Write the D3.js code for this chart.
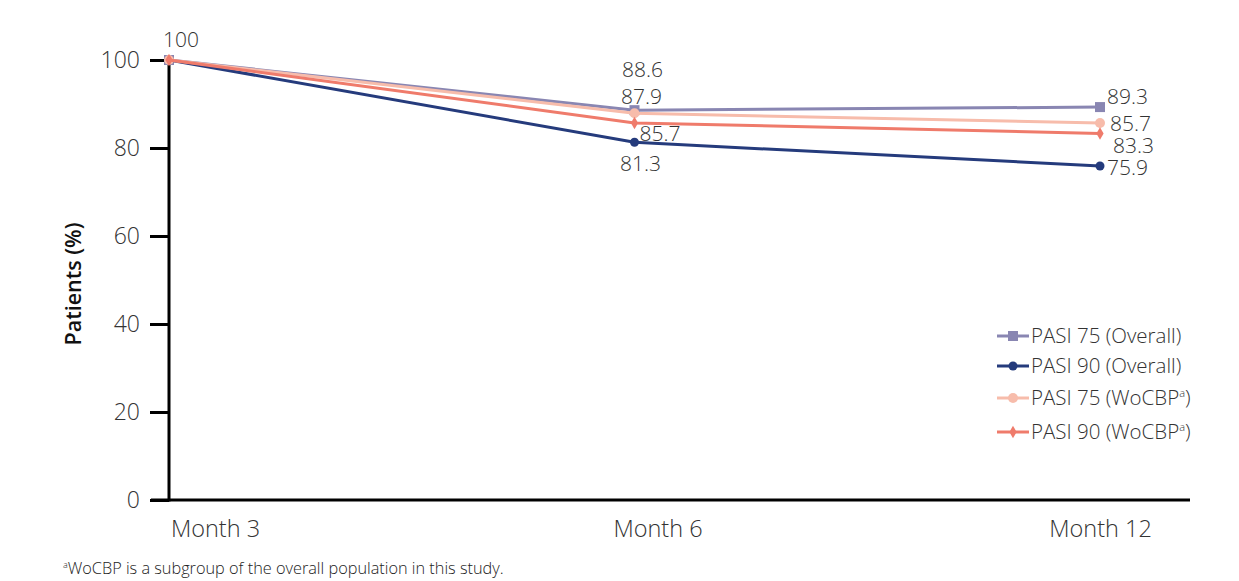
<!DOCTYPE html>
<html>
<head>
<meta charset="utf-8">
<script src="https://cdn.jsdelivr.net/npm/d3@7"></script>
<style>
  html, body { margin: 0; padding: 0; background: #fff; }
  svg { display: block; font-family: "Open Sans", "Noto Sans", sans-serif; }
</style>
</head>
<body>
<svg id="chart" width="1239" height="581"></svg>
<script>
// Time points and y-axis ticks
const months = ["Month 3", "Month 6", "Month 12"];
const yTicks = [0, 20, 40, 60, 80, 100];

// Response rates (%) per series
const pasi75Overall = [100, 88.6, 89.3];
const pasi90Overall = [100, 81.3, 75.9];
const pasi75Wocbp   = [100, 87.9, 85.7];
const pasi90Wocbp   = [100, 85.7, 83.3];

const seriesNames = ["PASI 75 (Overall)", "PASI 90 (Overall)", "PASI 75 (WoCBP", "PASI 90 (WoCBP"];

const series = [
  { name: seriesNames[0], sup: false, values: pasi75Overall, color: "#8986b2", marker: "square" },
  { name: seriesNames[1], sup: false, values: pasi90Overall, color: "#253b7c", marker: "circle" },
  { name: seriesNames[2], sup: true,  values: pasi75Wocbp,   color: "#f7bcab", marker: "bigcircle" },
  { name: seriesNames[3], sup: true,  values: pasi90Wocbp,   color: "#ef7b6b", marker: "diamond" }
];

// Value label offsets (dx from point, dy baseline from point) per series per month
const labelPlacement = [
  [null, { dx: 8, dy: -33, anchor: "middle" }, { dx: 7, dy: -3, anchor: "start" }],
  [null, { dx: 6, dy: 29, anchor: "middle" }, { dx: 7, dy: 9, anchor: "start" }],
  [null, { dx: 7, dy: -9, anchor: "middle" }, { dx: 10, dy: 8, anchor: "start" }],
  [null, { dx: 5, dy: 18, anchor: "start" }, { dx: 13, dy: 20, anchor: "start" }]
];

const svg = d3.select("#chart");

const x = d3.scalePoint().domain(months).range([169, 1100]);
const y = d3.scaleLinear().domain([0, 100]).range([500, 60]);

// Y axis
const yAxis = svg.append("g")
  .attr("transform", "translate(169,0)")
  .call(d3.axisLeft(y).tickValues(yTicks).tickSize(19).tickPadding(10));
yAxis.select(".domain").attr("stroke", "#000").attr("stroke-width", 3)
  .attr("d", `M0,${y(100)}V${y(0) + 1.5}`);
yAxis.selectAll(".tick line").attr("stroke", "#000").attr("stroke-width", 3);
yAxis.selectAll(".tick text").attr("fill", "#333").style("font-size", "23px")
  .style("font-family", "'Open Sans', sans-serif").style("font-weight", "300");

// X axis
const xAxis = svg.append("g")
  .attr("transform", "translate(0,500)")
  .call(d3.axisBottom(x).tickSize(0).tickPadding(20));
xAxis.select(".domain").attr("stroke", "#000").attr("stroke-width", 3)
  .attr("d", "M151,0H1190");
xAxis.selectAll(".tick text").attr("fill", "#333").style("font-size", "23.5px")
  .style("font-family", "'Open Sans', sans-serif").style("font-weight", "300")
  .attr("dx", (d, i) => i === 0 ? 46 : (i === 1 ? 23 : 0));

// Y axis title
svg.append("text")
  .attr("transform", "translate(81,284) rotate(-90)")
  .attr("text-anchor", "middle")
  .style("font-size", "21.5px")
  .style("font-weight", "600")
  .attr("fill", "#111")
  .text("Patients (%)");

function drawMarker(g, type, color, cx, cy) {
  if (type === "square") {
    g.append("rect").attr("x", cx - 5).attr("y", cy - 5).attr("width", 10).attr("height", 10).attr("fill", color);
  } else if (type === "circle") {
    g.append("circle").attr("cx", cx).attr("cy", cy).attr("r", 4.5).attr("fill", color);
  } else if (type === "bigcircle") {
    g.append("circle").attr("cx", cx).attr("cy", cy).attr("r", 5).attr("fill", color);
  } else if (type === "diamond") {
    g.append("path").attr("d", d3.symbol(d3.symbolDiamond, 45)()).attr("transform", `translate(${cx},${cy})`).attr("fill", color);
  }
}

const line = d3.line().x((d, i) => x(months[i])).y(d => y(d));

series.forEach((s, si) => {
  const g = svg.append("g");
  g.append("path").datum(s.values).attr("d", line)
    .attr("fill", "none").attr("stroke", s.color).attr("stroke-width", 3);
  s.values.forEach((v, i) => drawMarker(g, s.marker, s.color, x(months[i]), y(v)));
});

// Value labels
const labels = svg.append("g").style("font-size", "21px").style("font-weight", "300").attr("fill", "#333");
labels.append("text").attr("x", x(months[0]) + 12).attr("y", y(100) - 13)
  .attr("text-anchor", "middle").text(pasi75Overall[0]);
series.forEach((s, si) => {
  s.values.forEach((v, i) => {
    const p = labelPlacement[si][i];
    if (!p) return;
    labels.append("text")
      .attr("x", x(months[i]) + p.dx)
      .attr("y", y(v) + p.dy)
      .attr("text-anchor", p.anchor)
      .text(d3.format(".1f")(v));
  });
});

// Legend
const legendY = [336, 366, 398, 432];
const legend = svg.append("g");
series.forEach((s, si) => {
  const ly = legendY[si];
  legend.append("line").attr("x1", 997).attr("x2", 1029).attr("y1", ly).attr("y2", ly)
    .attr("stroke", s.color).attr("stroke-width", 3);
  drawMarker(legend, s.marker, s.color, 1013, ly);
  const t = legend.append("text").attr("x", 1031).attr("y", ly + 7)
    .style("font-size", "20.5px").style("font-weight", "300").attr("fill", "#333");
  t.append("tspan").text(s.name);
  if (s.sup) {
    t.append("tspan").attr("dy", -8).style("font-size", "11px").text("a");
    t.append("tspan").attr("dy", 8).text(")");
  }
});

// Footnote
const fn = svg.append("text").attr("x", 63).attr("y", 574)
  .style("font-size", "16.3px").style("font-weight", "300").attr("fill", "#222");
fn.append("tspan").attr("dy", -6).style("font-size", "9px").text("a");
fn.append("tspan").attr("dy", 6).text("WoCBP is a subgroup of the overall population in this study.");
</script>
</body>
</html>
